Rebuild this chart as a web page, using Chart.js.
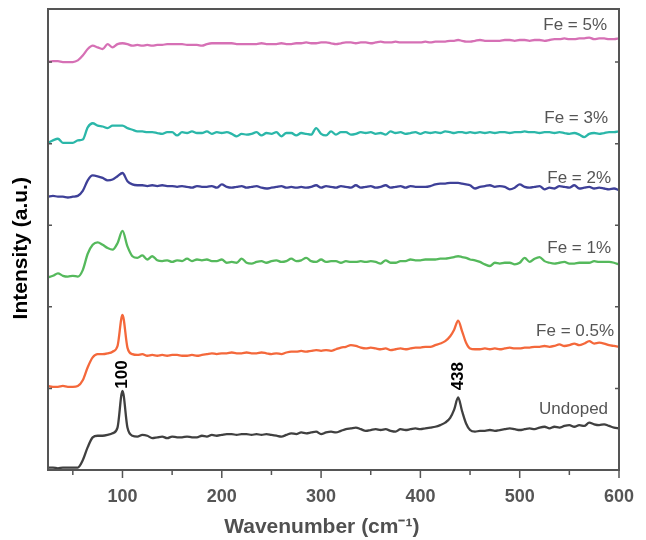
<!DOCTYPE html>
<html>
<head>
<meta charset="utf-8">
<script src="https://cdn.jsdelivr.net/npm/chart.js@4/dist/chart.umd.min.js"></script>
<style>
  html, body { margin: 0; padding: 0; background: #ffffff; }
  #wrap { width: 646px; height: 540px; }
</style>
</head>
<body>
<div id="wrap"><canvas id="c" width="646" height="540"></canvas></div>
<script>
// ---------- DATA ----------
const wavenumbers = [
  25,30,35,40,45,50,55,60,65,70,
  75,80,85,90,95,100,105,110,115,120,
  125,130,135,140,145,150,155,160,165,170,
  175,180,185,190,195,200,205,210,215,220,
  225,230,235,240,245,250,255,260,265,270,
  275,280,285,290,295,300,305,310,315,320,
  325,330,335,340,345,350,355,360,365,370,
  375,380,385,390,395,400,405,410,415,420,
  425,430,434,438,442,446,450,455,460,465,
  470,475,480,485,490,495,500,505,510,515,
  520,525,530,535,540,545,550,555,560,565,
  570,575,580,585,590,595,600
];

const undoped = [
  0.03,0.03,0.02,0.03,0.03,0.03,0.03,0.12,0.28,0.40,
  0.42,0.42,0.43,0.45,0.52,0.97,0.52,0.42,0.41,0.43,
  0.42,0.39,0.40,0.41,0.39,0.41,0.40,0.40,0.41,0.40,
  0.40,0.42,0.41,0.43,0.42,0.43,0.44,0.44,0.43,0.44,
  0.44,0.43,0.44,0.43,0.44,0.43,0.42,0.41,0.43,0.45,
  0.44,0.46,0.45,0.46,0.47,0.44,0.46,0.47,0.46,0.48,
  0.50,0.51,0.52,0.50,0.48,0.49,0.50,0.49,0.50,0.48,
  0.47,0.50,0.49,0.50,0.51,0.50,0.51,0.52,0.53,0.55,
  0.58,0.64,0.74,0.89,0.72,0.57,0.49,0.47,0.48,0.48,
  0.49,0.48,0.49,0.50,0.51,0.50,0.49,0.50,0.51,0.50,
  0.52,0.53,0.51,0.53,0.52,0.54,0.55,0.53,0.55,0.54,
  0.58,0.56,0.55,0.56,0.54,0.52,0.51
];

const fe05 = [
  1.03,1.02,1.02,1.03,1.02,1.02,1.03,1.10,1.26,1.38,
  1.42,1.42,1.43,1.45,1.52,1.90,1.50,1.42,1.41,1.42,
  1.40,1.41,1.40,1.41,1.40,1.41,1.41,1.40,1.40,1.41,
  1.40,1.41,1.42,1.43,1.42,1.43,1.43,1.44,1.43,1.43,
  1.44,1.43,1.43,1.44,1.43,1.42,1.43,1.42,1.44,1.45,
  1.45,1.46,1.45,1.46,1.47,1.46,1.47,1.46,1.48,1.50,
  1.51,1.53,1.52,1.50,1.49,1.50,1.49,1.48,1.49,1.47,
  1.48,1.49,1.48,1.49,1.50,1.50,1.51,1.51,1.53,1.55,
  1.58,1.64,1.72,1.83,1.70,1.56,1.49,1.48,1.48,1.49,
  1.48,1.49,1.48,1.49,1.50,1.49,1.49,1.50,1.50,1.51,
  1.51,1.52,1.51,1.52,1.54,1.52,1.53,1.55,1.53,1.55,
  1.58,1.55,1.56,1.55,1.53,1.52,1.51
];

const fe1 = [
  2.36,2.38,2.41,2.38,2.37,2.38,2.37,2.45,2.65,2.76,
  2.79,2.76,2.72,2.70,2.78,2.93,2.74,2.62,2.60,2.63,
  2.58,2.62,2.57,2.56,2.57,2.55,2.57,2.56,2.59,2.56,
  2.58,2.57,2.58,2.56,2.56,2.58,2.54,2.55,2.54,2.59,
  2.54,2.53,2.55,2.56,2.54,2.56,2.57,2.55,2.56,2.59,
  2.56,2.57,2.60,2.56,2.55,2.58,2.55,2.56,2.56,2.54,
  2.56,2.55,2.55,2.56,2.55,2.56,2.55,2.53,2.57,2.54,
  2.54,2.56,2.56,2.58,2.57,2.57,2.58,2.58,2.58,2.59,
  2.59,2.60,2.61,2.62,2.61,2.60,2.58,2.57,2.55,2.52,
  2.50,2.54,2.53,2.54,2.54,2.52,2.54,2.60,2.55,2.59,
  2.61,2.56,2.54,2.53,2.54,2.55,2.53,2.53,2.54,2.54,
  2.54,2.56,2.55,2.55,2.55,2.54,2.52
];

const fe2 = [
  3.35,3.36,3.35,3.35,3.34,3.35,3.36,3.42,3.55,3.61,
  3.60,3.58,3.55,3.56,3.60,3.64,3.54,3.50,3.49,3.49,
  3.48,3.49,3.48,3.49,3.48,3.48,3.47,3.48,3.47,3.46,
  3.48,3.47,3.47,3.48,3.46,3.50,3.47,3.46,3.47,3.48,
  3.46,3.47,3.48,3.46,3.45,3.46,3.47,3.48,3.46,3.47,
  3.46,3.47,3.46,3.47,3.49,3.46,3.48,3.47,3.46,3.48,
  3.47,3.46,3.49,3.46,3.47,3.48,3.46,3.47,3.49,3.46,
  3.47,3.48,3.46,3.48,3.47,3.47,3.47,3.48,3.50,3.51,
  3.51,3.52,3.52,3.52,3.51,3.50,3.49,3.45,3.47,3.48,
  3.49,3.47,3.48,3.47,3.44,3.46,3.50,3.47,3.46,3.47,
  3.48,3.44,3.46,3.45,3.48,3.47,3.46,3.49,3.45,3.46,
  3.47,3.45,3.46,3.45,3.44,3.45,3.43
];

const fe3 = [
  4.01,4.04,4.06,4.01,4.01,4.01,4.04,4.05,4.20,4.25,
  4.22,4.21,4.19,4.22,4.22,4.22,4.19,4.17,4.15,4.15,
  4.14,4.14,4.13,4.12,4.14,4.14,4.10,4.14,4.13,4.15,
  4.13,4.13,4.15,4.12,4.14,4.13,4.14,4.12,4.09,4.12,
  4.11,4.12,4.14,4.10,4.13,4.12,4.14,4.09,4.13,4.13,
  4.10,4.13,4.12,4.11,4.19,4.12,4.10,4.15,4.11,4.14,
  4.14,4.11,4.12,4.14,4.13,4.14,4.12,4.13,4.11,4.15,
  4.13,4.14,4.12,4.13,4.14,4.12,4.14,4.13,4.14,4.13,
  4.15,4.14,4.13,4.14,4.14,4.13,4.14,4.13,4.14,4.13,
  4.14,4.13,4.14,4.14,4.13,4.14,4.14,4.15,4.14,4.14,
  4.13,4.14,4.14,4.13,4.14,4.13,4.12,4.13,4.11,4.08,
  4.12,4.13,4.12,4.13,4.14,4.14,4.15
];

const fe5 = [
  5.00,5.01,5.01,5.00,5.00,5.00,5.02,5.08,5.16,5.20,
  5.18,5.16,5.22,5.18,5.22,5.23,5.22,5.20,5.21,5.20,
  5.21,5.20,5.21,5.21,5.22,5.22,5.22,5.22,5.21,5.21,
  5.21,5.20,5.22,5.23,5.23,5.23,5.23,5.23,5.22,5.22,
  5.22,5.22,5.22,5.23,5.22,5.22,5.22,5.23,5.22,5.22,
  5.23,5.23,5.24,5.23,5.23,5.24,5.24,5.23,5.22,5.23,
  5.24,5.24,5.23,5.24,5.24,5.23,5.24,5.25,5.24,5.24,
  5.25,5.24,5.24,5.24,5.24,5.24,5.25,5.24,5.25,5.25,
  5.25,5.26,5.26,5.27,5.26,5.25,5.25,5.26,5.27,5.26,
  5.26,5.26,5.26,5.27,5.27,5.26,5.27,5.27,5.26,5.27,
  5.27,5.26,5.27,5.28,5.28,5.29,5.28,5.28,5.29,5.29,
  5.30,5.28,5.29,5.29,5.28,5.28,5.29
];

const seriesNames = ['Undoped', 'Fe = 0.5%', 'Fe = 1%', 'Fe = 2%', 'Fe = 3%', 'Fe = 5%'];
const xTickLabels = [100, 200, 300, 400, 500, 600];
const xMinorTicks = [50, 150, 250, 350, 450, 550];
const yTicks = [0, 1, 2, 3, 4, 5];
const peakNames = ['100', '438'];
const peakPositions = [100, 438];

// ---------- STYLE / LAYOUT ----------
const colors = ['#404040', '#f4683b', '#55b95c', '#3e4098', '#2bb7a9', '#d670b5'];
// anchor of each series caption (data units): right edge x, baseline y
const captionX = [589, 595, 592, 592, 589, 588];
const captionY = [0.69, 1.64, 2.66, 3.52, 4.25, 5.39];
const peakLabelY = [1.17, 1.15];
const FONT = '"Liberation Sans", Arial, Helvetica, sans-serif';

const seriesData = [undoped, fe05, fe1, fe2, fe3, fe5];
const datasets = seriesData.map((arr, k) => ({
  label: seriesNames[k],
  data: wavenumbers.map((x, i) => ({ x: x, y: arr[i] })),
  borderColor: colors[k],
  backgroundColor: colors[k],
  borderWidth: 2.3,
  pointRadius: 0,
  fill: false,
  cubicInterpolationMode: 'monotone'
}));

const framePlugin = {
  id: 'frame',
  afterDatasetsDraw(chart) {
    const { ctx, chartArea: a, scales } = chart;
    const x = scales.x, y = scales.y;
    ctx.save();
    ctx.strokeStyle = '#555555';
    ctx.lineWidth = 2;
    ctx.strokeRect(a.left, a.top, a.right - a.left, a.bottom - a.top);
    ctx.lineWidth = 1.5;
    ctx.beginPath();
    xTickLabels.forEach(v => {
      const px = x.getPixelForValue(v);
      ctx.moveTo(px, a.bottom); ctx.lineTo(px, a.bottom + 8);
    });
    xMinorTicks.forEach(v => {
      const px = x.getPixelForValue(v);
      ctx.moveTo(px, a.bottom); ctx.lineTo(px, a.bottom + 5);
    });
    yTicks.forEach(v => {
      const py = y.getPixelForValue(v);
      ctx.moveTo(a.left, py); ctx.lineTo(a.left + 4, py);
      ctx.moveTo(a.right, py); ctx.lineTo(a.right - 4, py);
    });
    ctx.stroke();

    // series captions
    ctx.fillStyle = '#555555';
    ctx.font = '17px ' + FONT;
    ctx.textAlign = 'right';
    ctx.textBaseline = 'alphabetic';
    seriesNames.forEach((name, k) => {
      ctx.fillText(name, x.getPixelForValue(captionX[k]), y.getPixelForValue(captionY[k]));
    });

    // peak labels (rotated)
    ctx.fillStyle = '#000000';
    ctx.font = 'bold 17px ' + FONT;
    ctx.textAlign = 'center';
    ctx.textBaseline = 'middle';
    peakNames.forEach((name, k) => {
      ctx.save();
      ctx.translate(x.getPixelForValue(peakPositions[k]), y.getPixelForValue(peakLabelY[k]));
      ctx.rotate(-Math.PI / 2);
      ctx.fillText(name, 0, 0);
      ctx.restore();
    });
    ctx.restore();
  }
};

new Chart(document.getElementById('c'), {
  type: 'line',
  data: { datasets: datasets },
  plugins: [framePlugin],
  options: {
    responsive: false,
    animation: false,
    layout: { padding: { left: 0, right: 27, top: 9, bottom: 0 } },
    plugins: { legend: { display: false }, tooltip: { enabled: false } },
    scales: {
      x: {
        type: 'linear',
        min: 25,
        max: 600,
        afterBuildTicks: s => { s.ticks = xTickLabels.map(v => ({ value: v })); },
        afterFit: s => { s.height = 70; },
        grid: { display: false },
        border: { display: false },
        ticks: {
          autoSkip: false,
          maxRotation: 0,
          padding: 8,
          color: '#555555',
          font: { family: FONT, size: 18, weight: 'bold' }
        },
        title: {
          display: true,
          text: 'Wavenumber (cm\u207B\u00B9)\u00A0\u00A0\u00A0\u00A0',
          color: '#505050',
          font: { family: FONT, size: 21, weight: 'bold' },
          padding: { top: 0, bottom: 0 }
        }
      },
      y: {
        type: 'linear',
        min: 0,
        max: 5.65,
        afterBuildTicks: s => { s.ticks = yTicks.map(v => ({ value: v })); },
        afterFit: s => { s.width = 48; },
        grid: { display: false },
        border: { display: false },
        ticks: { display: false },
        title: {
          display: true,
          text: 'Intensity (a.u.)\u00A0\u00A0\u00A0',
          color: '#000000',
          font: { family: FONT, size: 21, weight: 'bold' },
          padding: { top: 9, bottom: 0 }
        }
      }
    }
  }
});
</script>
</body>
</html>
